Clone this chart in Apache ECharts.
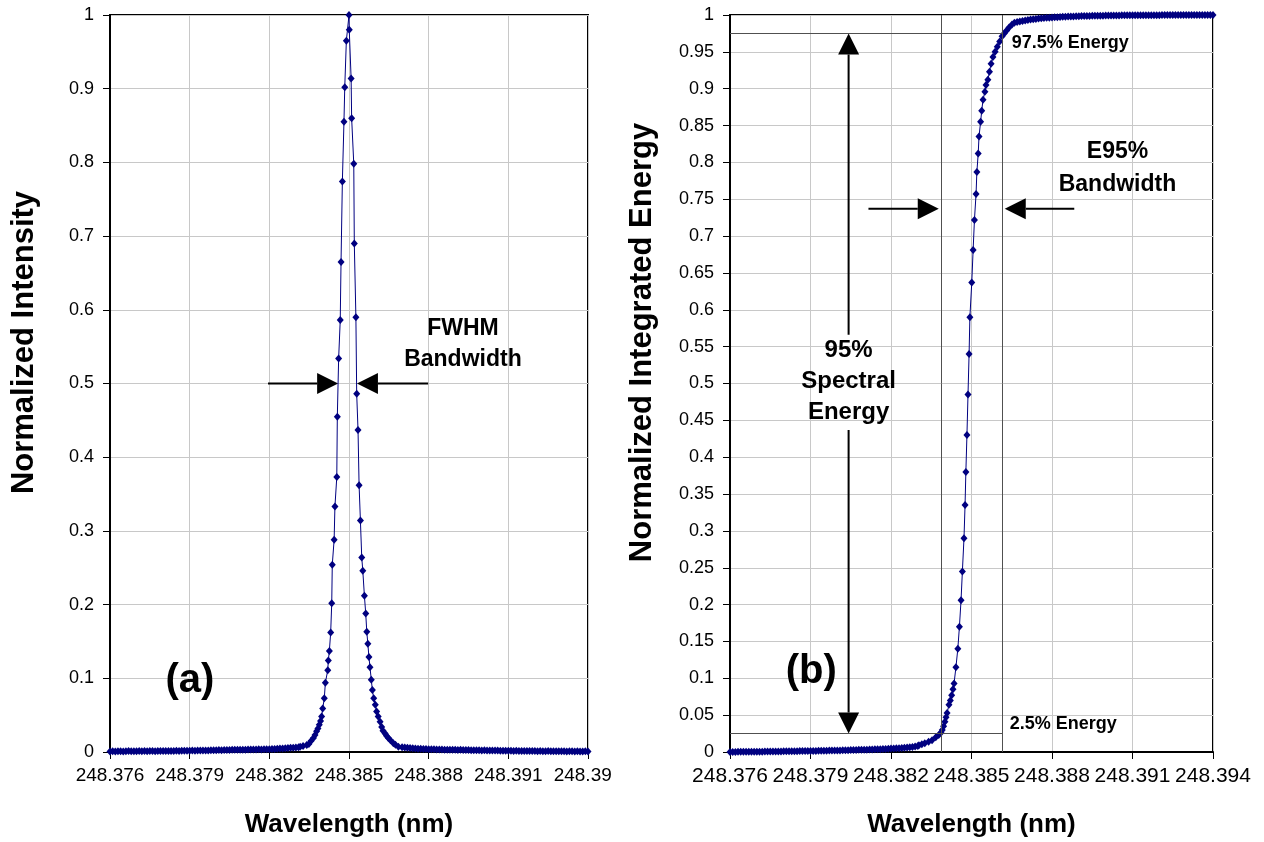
<!DOCTYPE html>
<html><head><meta charset="utf-8">
<script src="https://cdn.jsdelivr.net/npm/echarts@6/dist/echarts.min.js"></script>
<style>
html,body{margin:0;padding:0;background:#fff;width:1264px;height:842px;overflow:hidden}
#left{position:absolute;left:0;top:0;width:611px;height:842px}
#right{position:absolute;left:611px;top:0;width:653px;height:842px}
</style></head><body>
<div id="left"></div><div id="right"></div>
<script>
// ---- axis settings ----
const X_MIN = 248.376, X_MAX = 248.394, X_STEP = 0.003;
const LEFT_Y_STEP = 0.1, RIGHT_Y_STEP = 0.05;

// ---- (a) spectrum: [wavelength nm, normalized intensity] ----
const leftTailLow = [
[248.3760,0.0008],[248.3761,0.0010],[248.3762,0.0007],[248.3763,0.0009],[248.3764,0.0011],[248.3765,0.0008],[248.3766,0.0010],[248.3767,0.0012],[248.3768,0.0009],[248.3769,0.0011],
[248.3770,0.0010],[248.3771,0.0012],[248.3772,0.0009],[248.3773,0.0013],[248.3774,0.0011],[248.3775,0.0012],[248.3776,0.0014],[248.3777,0.0011],[248.3778,0.0013],[248.3779,0.0012],
[248.3780,0.0013],[248.3781,0.0014],[248.3782,0.0013],[248.3783,0.0015],[248.3784,0.0014],[248.3785,0.0016],[248.3786,0.0015],[248.3787,0.0017],[248.3788,0.0016],[248.3789,0.0017],
[248.3790,0.0017],[248.3791,0.0019],[248.3792,0.0018],[248.3793,0.0020],[248.3794,0.0019],[248.3795,0.0021],[248.3796,0.0022],[248.3797,0.0021],[248.3798,0.0023],[248.3799,0.0024],
[248.3800,0.0024],[248.3801,0.0026],[248.3802,0.0025],[248.3803,0.0027],[248.3804,0.0028],[248.3805,0.0027],[248.3806,0.0029],[248.3807,0.0030],[248.3808,0.0029],[248.3809,0.0031],
[248.3810,0.0032],[248.3811,0.0031],[248.3812,0.0033],[248.3813,0.0034],[248.3814,0.0033],[248.3815,0.0035],[248.3816,0.0036],[248.3817,0.0035],[248.3818,0.0037],[248.3819,0.0038],
[248.3820,0.0039],[248.3821,0.0041],[248.3822,0.0042],[248.3823,0.0044],[248.3824,0.0046],[248.3825,0.0048],[248.3826,0.0050],[248.3827,0.0053],[248.3828,0.0056],[248.3829,0.0059],
[248.3830,0.0062],[248.3831,0.0066]
];
const leftPeak = [
[248.38316,0.007],[248.38327,0.008],[248.38341,0.0095],[248.38349,0.011],[248.38357,0.015],[248.38366,0.019],[248.38372,0.023],[248.38378,0.028],
[248.38383,0.032],[248.38388,0.037],[248.38393,0.042],[248.38397,0.048],[248.38401,0.059],[248.38407,0.073],[248.38411,0.094],[248.38420,0.111],
[248.38422,0.124],[248.38426,0.137],[248.38431,0.162],[248.38435,0.202],[248.38437,0.254],[248.38444,0.288],[248.38447,0.333],[248.38454,0.373],
[248.38456,0.455],[248.38461,0.534],[248.38467,0.586],[248.38470,0.665],[248.38475,0.774],[248.38481,0.855],[248.38484,0.902],[248.38490,0.965],
[248.38500,1.000],[248.38501,0.980],[248.38508,0.914],[248.38510,0.860],[248.38518,0.798],[248.38520,0.690],[248.38526,0.590],[248.38529,0.486],
[248.38534,0.437],[248.38538,0.362],[248.38543,0.314],[248.38548,0.264],[248.38552,0.246],[248.38558,0.212],[248.38563,0.188],[248.38567,0.163],
[248.38571,0.147],[248.38575,0.129],[248.38579,0.115],[248.38584,0.098],[248.38588,0.084],[248.38593,0.073],[248.38599,0.064],[248.38604,0.055],
[248.38610,0.048],[248.38617,0.041],[248.38623,0.034],[248.38628,0.029],[248.38636,0.025],[248.38641,0.022],[248.38648,0.019],[248.38656,0.016],
[248.38667,0.012],[248.38675,0.010],[248.38686,0.007]
];
const leftTailHigh = [
[248.3870,0.0065],[248.3871,0.0060],[248.3872,0.0056],[248.3873,0.0053],[248.3874,0.0050],[248.3875,0.0047],[248.3876,0.0045],[248.3877,0.0043],[248.3878,0.0041],[248.3879,0.0040],
[248.3880,0.0038],[248.3881,0.0037],[248.3882,0.0036],[248.3883,0.0034],[248.3884,0.0035],[248.3885,0.0033],[248.3886,0.0032],[248.3887,0.0031],[248.3888,0.0032],[248.3889,0.0030],
[248.3890,0.0029],[248.3891,0.0028],[248.3892,0.0029],[248.3893,0.0027],[248.3894,0.0026],[248.3895,0.0027],[248.3896,0.0025],[248.3897,0.0024],[248.3898,0.0025],[248.3899,0.0023],
[248.3900,0.0022],[248.3901,0.0023],[248.3902,0.0021],[248.3903,0.0020],[248.3904,0.0021],[248.3905,0.0019],[248.3906,0.0020],[248.3907,0.0018],[248.3908,0.0017],[248.3909,0.0018],
[248.3910,0.0016],[248.3911,0.0017],[248.3912,0.0015],[248.3913,0.0016],[248.3914,0.0014],[248.3915,0.0015],[248.3916,0.0013],[248.3917,0.0014],[248.3918,0.0013],[248.3919,0.0012],
[248.3920,0.0013],[248.3921,0.0011],[248.3922,0.0012],[248.3923,0.0010],[248.3924,0.0011],[248.3925,0.0012],[248.3926,0.0010],[248.3927,0.0009],[248.3928,0.0011],[248.3929,0.0010],
[248.3930,0.0009],[248.3931,0.0010],[248.3932,0.0008],[248.3933,0.0009],[248.3934,0.0010],[248.3935,0.0008],[248.3936,0.0009],[248.3937,0.0007],[248.3938,0.0008],[248.3939,0.0009],[248.3940,0.0008]
];

// ---- (b) integrated energy: [wavelength nm, normalized integrated energy] ----
const rightTailLow = [
[248.3760,0.0000],[248.3761,0.0001],[248.3762,0.0001],[248.3763,0.0002],[248.3764,0.0002],[248.3765,0.0002],[248.3766,0.0003],[248.3767,0.0003],[248.3768,0.0004],[248.3769,0.0004],
[248.3770,0.0004],[248.3771,0.0005],[248.3772,0.0005],[248.3773,0.0006],[248.3774,0.0006],[248.3775,0.0006],[248.3776,0.0007],[248.3777,0.0007],[248.3778,0.0008],[248.3779,0.0008],
[248.3780,0.0009],[248.3781,0.0009],[248.3782,0.0010],[248.3783,0.0010],[248.3784,0.0011],[248.3785,0.0011],[248.3786,0.0012],[248.3787,0.0012],[248.3788,0.0013],[248.3789,0.0013],
[248.3790,0.0014],[248.3791,0.0015],[248.3792,0.0015],[248.3793,0.0016],[248.3794,0.0017],[248.3795,0.0017],[248.3796,0.0018],[248.3797,0.0019],[248.3798,0.0020],[248.3799,0.0021],
[248.3800,0.0021],[248.3801,0.0022],[248.3802,0.0023],[248.3803,0.0024],[248.3804,0.0025],[248.3805,0.0026],[248.3806,0.0027],[248.3807,0.0028],[248.3808,0.0029],[248.3809,0.0030],
[248.3810,0.0031],[248.3811,0.0032],[248.3812,0.0034],[248.3813,0.0035],[248.3814,0.0036],[248.3815,0.0038],[248.3816,0.0039],[248.3817,0.0041],[248.3818,0.0042],[248.3819,0.0044],
[248.3820,0.0046],[248.3821,0.0048],[248.3822,0.0050],[248.3823,0.0052],[248.3824,0.0055],[248.3825,0.0058],[248.3826,0.0061],[248.3827,0.0065],[248.3828,0.0069],[248.3829,0.0073],
[248.3830,0.0080]
];
const rightRise = [
[248.38304,0.0090],[248.38315,0.0105],[248.38326,0.012],[248.38340,0.014],[248.38353,0.016],[248.38367,0.020],[248.38378,0.023],[248.38386,0.026],
[248.38391,0.030],[248.38396,0.035],[248.38401,0.041],[248.38405,0.047],[248.38409,0.053],[248.38416,0.064],[248.38421,0.070],[248.38426,0.077],
[248.38431,0.085],[248.38435,0.093],[248.38442,0.115],[248.38449,0.140],[248.38455,0.170],[248.38461,0.206],[248.38466,0.245],[248.38472,0.290],
[248.38476,0.335],[248.38479,0.380],[248.38483,0.430],[248.38487,0.485],[248.38491,0.540],[248.38494,0.590],[248.38501,0.637],[248.38506,0.681],
[248.38511,0.722],[248.38517,0.757],[248.38520,0.787],[248.38525,0.812],[248.38528,0.835],[248.38534,0.855],[248.38538,0.870],[248.38543,0.885],
[248.38550,0.896],[248.38554,0.905],[248.38561,0.912],[248.38567,0.923],[248.38573,0.934],[248.38580,0.943],[248.38588,0.950],[248.38596,0.957],
[248.38605,0.964],[248.38614,0.971],[248.38622,0.975],[248.38631,0.979],[248.38640,0.983],[248.38651,0.987]
];
const rightTailHigh = [
[248.3866,0.9895],[248.3867,0.9905],[248.3868,0.9913],[248.3869,0.9920],
[248.3870,0.9927],[248.3871,0.9933],[248.3872,0.9938],[248.3873,0.9943],[248.3874,0.9947],[248.3875,0.9951],[248.3876,0.9955],[248.3877,0.9958],[248.3878,0.9961],[248.3879,0.9964],
[248.3880,0.9966],[248.3881,0.9969],[248.3882,0.9971],[248.3883,0.9973],[248.3884,0.9975],[248.3885,0.9977],[248.3886,0.9978],[248.3887,0.9980],[248.3888,0.9981],[248.3889,0.9983],
[248.3890,0.9984],[248.3891,0.9985],[248.3892,0.9986],[248.3893,0.9987],[248.3894,0.9988],[248.3895,0.9989],[248.3896,0.9989],[248.3897,0.9990],[248.3898,0.9991],[248.3899,0.9991],
[248.3900,0.9992],[248.3901,0.9992],[248.3902,0.9993],[248.3903,0.9993],[248.3904,0.9994],[248.3905,0.9994],[248.3906,0.9995],[248.3907,0.9995],[248.3908,0.9995],[248.3909,0.9996],
[248.3910,0.9996],[248.3911,0.9996],[248.3912,0.9997],[248.3913,0.9997],[248.3914,0.9997],[248.3915,0.9997],[248.3916,0.9998],[248.3917,0.9998],[248.3918,0.9998],[248.3919,0.9998],
[248.3920,0.9998],[248.3921,0.9999],[248.3922,0.9999],[248.3923,0.9999],[248.3924,0.9999],[248.3925,0.9999],[248.3926,0.9999],[248.3927,0.9999],[248.3928,1.0000],[248.3929,1.0000],
[248.3930,1.0000],[248.3931,1.0000],[248.3932,1.0000],[248.3933,1.0000],[248.3934,1.0000],[248.3935,1.0000],[248.3936,1.0000],[248.3937,1.0000],[248.3938,1.0000],[248.3939,1.0000],[248.3940,1.0000]
];

// ---- E95 bandwidth markers (wavelength nm) and energy levels ----
const e95Low = 248.38386, e95High = 248.38616;
const energyLow = 0.025, energyHigh = 0.975;

// ---- texts ----
const leftTitle = 'Normalized Intensity';
const rightTitle = 'Normalized Integrated Energy';
const xTitle = 'Wavelength (nm)';

const FONT = 'Arial, "Liberation Sans", sans-serif';
const NAVY = '#000080';
const GRIDC = '#c8c8c8';

function baseOption(o) {
  return {
    animation: false,
    grid: Object.assign({show: true, borderColor: '#000', borderWidth: 2, backgroundColor: 'transparent', containLabel: false, outerBoundsMode: 'none'}, o.grid),
    xAxis: {
      type: 'value', min: X_MIN, max: X_MAX, interval: X_STEP,
      name: xTitle, nameLocation: 'middle', nameGap: 60,
      nameTextStyle: {fontFamily: FONT, fontSize: 26, fontWeight: 'bold', color: '#000'},
      axisLine: {show: true, onZero: false, lineStyle: {color: '#000', width: 2}},
      axisTick: {show: true, length: 7, lineStyle: {color: '#000', width: 1}},
      axisLabel: Object.assign({fontFamily: FONT, color: '#000', margin: 14, showMaxLabel: true, showMinLabel: true, hideOverlap: false,
        formatter: function (v) { return v.toFixed(3); }}, o.xLabel),
      splitLine: {show: true, lineStyle: {color: GRIDC, width: 1}}
    },
    yAxis: {
      type: 'value', min: 0, max: 1, interval: o.yStep,
      name: o.yName, nameLocation: 'middle', nameGap: o.yGap,
      nameTextStyle: {fontFamily: FONT, fontSize: 31, fontWeight: 'bold', color: '#000', padding: [0, 0, 0, 82]},
      axisLine: {show: true, lineStyle: {color: '#000', width: 2}},
      axisTick: {show: true, length: 7, lineStyle: {color: '#000', width: 1}},
      axisLabel: {fontFamily: FONT, fontSize: 18, color: '#000', margin: 16},
      splitLine: {show: true, lineStyle: {color: GRIDC, width: 1}}
    },
    series: [{
      type: 'line', data: o.data, clip: false,
      symbol: 'diamond', symbolSize: [7, 8], showSymbol: true,
      itemStyle: {color: NAVY}, lineStyle: {color: NAVY, width: 1},
      markLine: o.markLine
    }]
  };
}

function arrow(chart, tip, tail) {
  const p = chart.convertToPixel({gridIndex: 0}, tip);
  const q = chart.convertToPixel({gridIndex: 0}, tail);
  const dx = p[0] - q[0], dy = p[1] - q[1];
  const len = Math.sqrt(dx * dx + dy * dy);
  const ux = dx / len, uy = dy / len;
  const hl = 21, hw = 10.5;
  const bx = p[0] - ux * hl, by = p[1] - uy * hl;
  return [
    {type: 'line', silent: true, shape: {x1: q[0], y1: q[1], x2: bx, y2: by}, style: {stroke: '#000', lineWidth: 2}},
    {type: 'polygon', silent: true, shape: {points: [[p[0], p[1]], [bx - uy * hw, by + ux * hw], [bx + uy * hw, by - ux * hw]]}, style: {fill: '#000'}}
  ];
}
function label(chart, at, text, size, opts) {
  const p = chart.convertToPixel({gridIndex: 0}, at);
  opts = opts || {};
  return {type: 'text', silent: true, x: p[0] + (opts.dx || 0), y: p[1] + (opts.dy || 0),
    style: {text: text, font: 'bold ' + size + 'px ' + FONT, fill: '#000',
      align: opts.align || 'center', textAlign: opts.align || 'center',
      verticalAlign: 'middle', textVerticalAlign: 'middle', lineHeight: opts.lh || size * 1.3}};
}

// ---- left chart (a) ----
const leftChart = echarts.init(document.getElementById('left'), null, {renderer: 'canvas'});
leftChart.setOption(baseOption({
  grid: {left: 110, right: 23, top: 15, bottom: 90},
  yStep: LEFT_Y_STEP, yName: leftTitle, yGap: 70,
  xLabel: {fontSize: 19},
  data: leftTailLow.concat(leftPeak, leftTailHigh)
}));
leftChart.setOption({graphic: [].concat(
  arrow(leftChart, [248.38459, 0.5], [248.38195, 0.5]),
  arrow(leftChart, [248.38530, 0.5], [248.38798, 0.5]),
  [label(leftChart, [248.38929, 0.553], 'FWHM\nBandwidth', 23, {lh: 31}),
   label(leftChart, [248.37901, 0.096], '(a)', 40)]
)});

// ---- right chart (b) ----
const rightChart = echarts.init(document.getElementById('right'), null, {renderer: 'canvas'});
rightChart.setOption(baseOption({
  grid: {left: 119, right: 51, top: 15, bottom: 90},
  yStep: RIGHT_Y_STEP, yName: rightTitle, yGap: 72,
  xLabel: {fontSize: 21},
  data: rightTailLow.concat(rightRise, rightTailHigh),
  markLine: {
    silent: true, symbol: 'none', animation: false,
    label: {show: false},
    lineStyle: {color: '#505050', width: 1, type: 'solid'},
    data: [
      [{coord: [X_MIN, energyLow]}, {coord: [e95High, energyLow]}],
      [{coord: [X_MIN, energyHigh]}, {coord: [e95High, energyHigh]}],
      [{coord: [e95Low, 0]}, {coord: [e95Low, 1]}],
      [{coord: [e95High, 0]}, {coord: [e95High, 1]}]
    ]
  }
}));
rightChart.setOption({graphic: [].concat(
  arrow(rightChart, [248.38378, 0.737], [248.38116, 0.737]),
  arrow(rightChart, [248.38624, 0.737], [248.38883, 0.737]),
  arrow(rightChart, [248.38042, energyHigh], [248.38042, 0.566]),
  arrow(rightChart, [248.38042, energyLow], [248.38042, 0.437]),
  [label(rightChart, [248.39044, 0.792], 'E95%\nBandwidth', 23, {lh: 33}),
   label(rightChart, [248.38042, 0.503], '95%\nSpectral\nEnergy', 24, {lh: 31}),
   label(rightChart, [248.37903, 0.1085], '(b)', 40),
   label(rightChart, [e95High, energyHigh], '97.5% Energy', 18, {align: 'left', dx: 9, dy: 10}),
   label(rightChart, [e95High, energyLow], '2.5% Energy', 18, {align: 'left', dx: 7, dy: -10})]
)});
</script>
</body></html>
